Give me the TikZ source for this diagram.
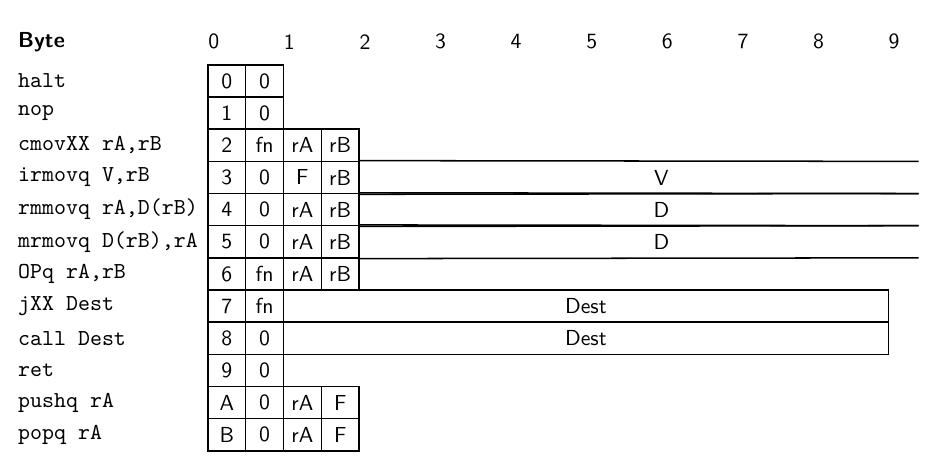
\documentclass[tikz,border=0pt]{standalone}
\usetikzlibrary{positioning}

\begin{document}
\begin{tikzpicture}[x=17.4pt,y=-14.8pt]
\tikzset{
  nibble/.style={draw,line width=0.7pt,minimum width=17.4pt,minimum height=14.8pt,inner sep=0pt,font=\sffamily},
  field/.style={draw,line width=0.7pt,minimum height=14.8pt,inner sep=0pt,font=\sffamily},
  fieldtext/.style={inner sep=0pt,font=\sffamily},
  openline/.style={line width=0.7pt},
  instr/.style={anchor=west,inner sep=0pt,font=\fontsize{10.5}{12}\ttfamily},
  bytenum/.style={anchor=west,inner sep=0pt,font=\sffamily}
}
\useasboundingbox (-5.50,-2.02) rectangle (19.21,12.78);
% header
\node[bytenum,font=\sffamily\bfseries] (hdr) at (-5.03,-0.72) {Byte};
\foreach \b in {0,...,9}
  \node[bytenum] (byte\b) at (2*\b,-0.72) {\b};
% instruction names
\node[instr] (l_halt) at (-5.03,0.5) {halt};
\node[instr] (l_nop) at (-5.03,1.5) {nop};
\node[instr] (l_cmov) at (-5.03,2.5) {cmovXX rA,rB};
\node[instr] (l_irmov) at (-5.03,3.5) {irmovq V,rB};
\node[instr] (l_rmmov) at (-5.03,4.5) {rmmovq rA,D(rB)};
\node[instr] (l_mrmov) at (-5.03,5.5) {mrmovq D(rB),rA};
\node[instr] (l_op) at (-5.03,6.5) {OPq rA,rB};
\node[instr] (l_jxx) at (-5.03,7.5) {jXX Dest};
\node[instr] (l_call) at (-5.03,8.5) {call Dest};
\node[instr] (l_ret) at (-5.03,9.5) {ret};
\node[instr] (l_push) at (-5.03,10.5) {pushq rA};
\node[instr] (l_pop) at (-5.03,11.5) {popq rA};
% halt, nop
\node[nibble] (halt_i) at (0.5,0.5) {0};
\node[nibble] (halt_f) at (1.5,0.5) {0};
\node[nibble] (nop_i) at (0.5,1.5) {1};
\node[nibble] (nop_f) at (1.5,1.5) {0};
% cmovXX
\node[nibble] (cmov_i) at (0.5,2.5) {2};
\node[nibble] (cmov_f) at (1.5,2.5) {fn};
\node[nibble] (cmov_a) at (2.5,2.5) {rA};
\node[nibble] (cmov_b) at (3.5,2.5) {rB};
% irmovq
\node[nibble] (irmov_i) at (0.5,3.5) {3};
\node[nibble] (irmov_f) at (1.5,3.5) {0};
\node[nibble] (irmov_a) at (2.5,3.5) {F};
\node[nibble] (irmov_b) at (3.5,3.5) {rB};
\node[fieldtext] (irmov_v) at (12,3.5) {V};
\coordinate (irmov_te) at (18.8,3);
\coordinate (irmov_be) at (18.8,4);
\draw[openline] (irmov_b.north east) -- (irmov_te);
\draw[openline] (irmov_b.south east) -- (irmov_be);
% rmmovq
\node[nibble] (rmmov_i) at (0.5,4.5) {4};
\node[nibble] (rmmov_f) at (1.5,4.5) {0};
\node[nibble] (rmmov_a) at (2.5,4.5) {rA};
\node[nibble] (rmmov_b) at (3.5,4.5) {rB};
\node[fieldtext] (rmmov_d) at (12,4.5) {D};
\coordinate (rmmov_te) at (18.8,4);
\coordinate (rmmov_be) at (18.8,5);
\draw[openline] (rmmov_b.north east) -- (rmmov_te);
\draw[openline] (rmmov_b.south east) -- (rmmov_be);
% mrmovq
\node[nibble] (mrmov_i) at (0.5,5.5) {5};
\node[nibble] (mrmov_f) at (1.5,5.5) {0};
\node[nibble] (mrmov_a) at (2.5,5.5) {rA};
\node[nibble] (mrmov_b) at (3.5,5.5) {rB};
\node[fieldtext] (mrmov_d) at (12,5.5) {D};
\coordinate (mrmov_te) at (18.8,5);
\coordinate (mrmov_be) at (18.8,6);
\draw[openline] (mrmov_b.north east) -- (mrmov_te);
\draw[openline] (mrmov_b.south east) -- (mrmov_be);
% OPq
\node[nibble] (op_i) at (0.5,6.5) {6};
\node[nibble] (op_f) at (1.5,6.5) {fn};
\node[nibble] (op_a) at (2.5,6.5) {rA};
\node[nibble] (op_b) at (3.5,6.5) {rB};
% jXX, call
\node[nibble] (jxx_i) at (0.5,7.5) {7};
\node[nibble] (jxx_f) at (1.5,7.5) {fn};
\node[field,minimum width=16*17.4pt] (jxx_d) at (10,7.5) {Dest};
\node[nibble] (call_i) at (0.5,8.5) {8};
\node[nibble] (call_f) at (1.5,8.5) {0};
\node[field,minimum width=16*17.4pt] (call_d) at (10,8.5) {Dest};
% ret
\node[nibble] (ret_i) at (0.5,9.5) {9};
\node[nibble] (ret_f) at (1.5,9.5) {0};
% pushq, popq
\node[nibble] (push_i) at (0.5,10.5) {A};
\node[nibble] (push_f) at (1.5,10.5) {0};
\node[nibble] (push_a) at (2.5,10.5) {rA};
\node[nibble] (push_b) at (3.5,10.5) {F};
\node[nibble] (pop_i) at (0.5,11.5) {B};
\node[nibble] (pop_f) at (1.5,11.5) {0};
\node[nibble] (pop_a) at (2.5,11.5) {rA};
\node[nibble] (pop_b) at (3.5,11.5) {F};
\end{tikzpicture}
\end{document}
